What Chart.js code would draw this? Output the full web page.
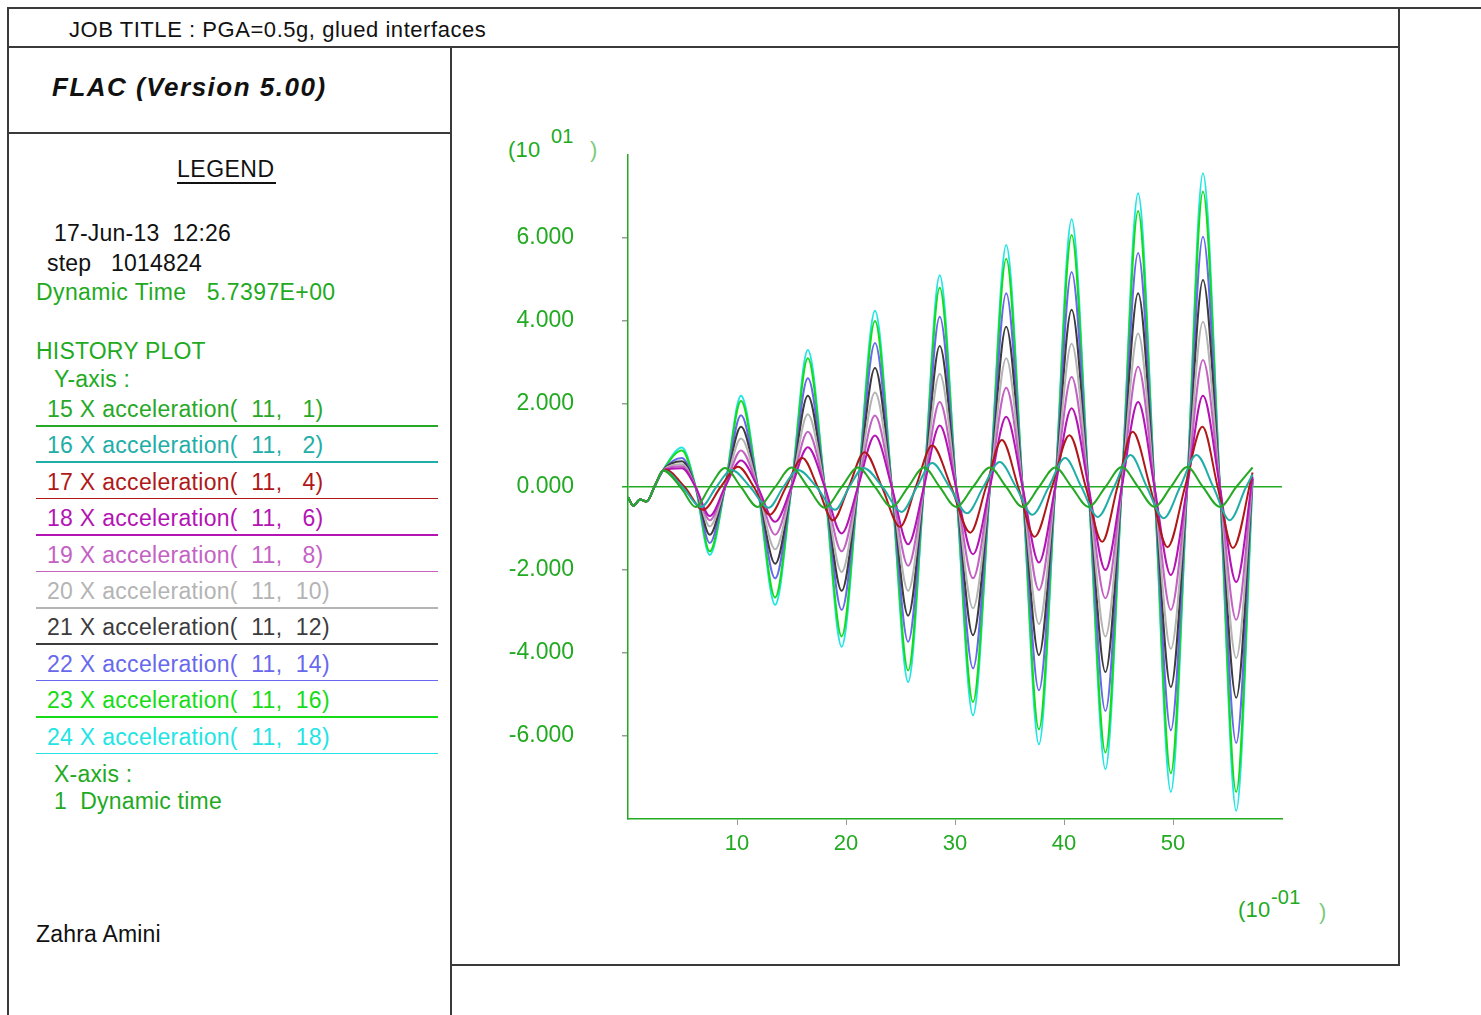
<!DOCTYPE html>
<html>
<head>
<meta charset="utf-8">
<script src="https://cdn.jsdelivr.net/npm/chart.js@4.4.1/dist/chart.umd.min.js"></script>
<style>
  body { margin: 0; width: 1481px; height: 1015px; background: #fff; position: relative; overflow: hidden;
         font-family: "Liberation Sans", Arial, sans-serif; }
  .ln { position: absolute; background: #3a3a3a; }
  .tx { position: absolute; white-space: pre; font-size: 23px; line-height: 26px; color: #111; letter-spacing: 0.2px; }
  .gr { color: #1faa1f; }
  #box { position: absolute; left: 452px; top: 48px; width: 946px; height: 916px; }
</style>
</head>
<body>
<!-- frame -->
<div class="ln" style="left:8px;top:7px;width:1473px;height:2px"></div>
<div class="ln" style="left:8px;top:46px;width:1392px;height:2px"></div>
<div class="ln" style="left:7px;top:7px;width:2px;height:1008px"></div>
<div class="ln" style="left:1398px;top:7px;width:2px;height:959px"></div>
<div class="ln" style="left:450px;top:46px;width:2px;height:969px"></div>
<div class="ln" style="left:8px;top:132px;width:443px;height:2px"></div>
<div class="ln" style="left:451px;top:964px;width:948px;height:2px"></div>

<div class="tx" style="left:69px;top:17px;font-size:22px;letter-spacing:0.55px">JOB TITLE : PGA=0.5g, glued interfaces</div>
<div class="tx" style="left:52px;top:72px;font-size:26px;line-height:30px;font-weight:bold;font-style:italic;letter-spacing:1.5px">FLAC (Version 5.00)</div>
<div class="tx" style="left:177px;top:156px;letter-spacing:0.5px">LEGEND</div>
<div class="ln" style="left:177px;top:182px;width:99px;height:1.5px;background:#111"></div>
<div class="tx" style="left:54px;top:220px">17-Jun-13  12:26</div>
<div class="tx" style="left:47px;top:250px">step   1014824</div>
<div class="tx gr" style="left:36px;top:279px;letter-spacing:0.4px">Dynamic Time   5.7397E+00</div>
<div class="tx gr" style="left:36px;top:338px">HISTORY PLOT</div>
<div class="tx gr" style="left:54px;top:366px">Y-axis :</div>
<div id="legend"></div>
<div class="tx gr" style="left:54px;top:761px">X-axis :</div>
<div class="tx gr" style="left:54px;top:788px">1  Dynamic time</div>
<div class="tx" style="left:36px;top:921px">Zahra Amini</div>

<!-- axis multipliers -->
<div class="tx gr" style="left:508px;top:137px;font-size:22px">(10</div>
<div class="tx gr" style="left:551px;top:123px;font-size:20px">01</div>
<div class="tx gr" style="left:590px;top:137px;font-size:22px;opacity:0.6">)</div>
<div class="tx gr" style="left:1238px;top:897px;font-size:22px">(10</div>
<div class="tx gr" style="left:1271px;top:884px;font-size:20px">-01</div>
<div class="tx gr" style="left:1319px;top:899px;font-size:22px;opacity:0.6">)</div>

<div id="box"><canvas id="grafico"></canvas></div>

<script>
// dynamic time (x 10^-1 s) sample points
const tMain = [0, 0.5, 1.1, 1.7, 2.5, 3.2, 4.95, 6.2, 7.5, 8.9, 10.37, 11.9, 13.5, 15.0, 16.5, 18.05, 19.6, 21.1,
  22.66, 24.2, 25.7, 27.15, 28.6, 30.1, 31.65, 33.2, 34.7, 36.2, 37.7, 39.2, 40.7, 42.25, 43.8, 45.3, 46.8, 48.3,
  49.8, 51.3, 52.75, 54.3, 55.8, 57.3];
const tNode2 = [0, 0.5, 1.1, 1.7, 2.5, 3.3, 5.0, 6.7, 8.1, 9.5, 11.2, 12.9, 14.25, 15.6, 17.3, 19.0, 20.3, 21.6,
  23.35, 25.1, 26.5, 27.9, 29.5, 31.1, 32.6, 34.1, 35.6, 37.1, 38.6, 40.1, 41.6, 43.1, 44.6, 46.1, 47.6, 49.15,
  50.65, 52.15, 53.7, 55.2, 56.7, 57.3];
const tNode4 = [0, 0.5, 1.1, 1.7, 2.5, 3.4, 5.2, 6.9, 8.5, 10.1, 11.55, 13.0, 14.5, 16.0, 17.4, 18.8, 20.25, 21.7,
  23.3, 24.95, 26.4, 27.9, 29.65, 31.4, 32.85, 34.3, 35.8, 37.3, 38.9, 40.5, 42.0, 43.5, 44.9, 46.3, 47.9, 49.5,
  51.1, 52.7, 54.1, 55.5, 57.3];

// x acceleration (x 10^1)
const acc1 = [-0.25, -0.45, -0.3, -0.35, 0.05, 0.4, -0.05, -0.48, 0, 0.46, 0, -0.48, 0, 0.47, 0, -0.5, 0, 0.47,
  0, -0.48, 0, 0.47, 0, -0.48, 0, 0.47, 0, -0.48, 0, 0.47, 0, -0.48, 0, 0.48, 0, -0.48, 0, 0.48, 0, -0.48, 0, 0.47];
const acc2 = [-0.25, -0.45, -0.3, -0.35, 0.05, 0.4, 0, -0.48, 0, 0.41, 0, -0.5, 0, 0.41, 0, -0.55, 0, 0.46,
  0, -0.6, 0, 0.58, 0, -0.63, 0, 0.6, 0, -0.67, 0, 0.7, 0, -0.72, 0, 0.77, 0, -0.75, 0, 0.77, 0, -0.8, 0, 0.3];
const acc4 = [-0.25, -0.45, -0.3, -0.35, 0.05, 0.42, 0, -0.55, 0, 0.49, 0, -0.67, 0, 0.7, 0, -0.8, 0, 0.84,
  0, -0.96, 0, 1.0, 0, -1.1, 0, 1.13, 0, -1.2, 0, 1.25, 0, -1.32, 0, 1.33, 0, -1.45, 0, 1.45, 0, -1.47, 0.35];
const acc6 = [-0.25, -0.45, -0.3, -0.35, 0.05, 0.4, 0.45, 0, -0.7, 0, 0.64, 0, -0.84, 0, 0.96, 0, -1.12, 0,
  1.24, 0, -1.38, 0, 1.48, 0, -1.62, 0, 1.69, 0, -1.82, 0, 1.9, 0, -2.0, 0, 2.05, 0, -2.12, 0, 2.2, 0, -2.29, 0.25];
const acc8 = [-0.25, -0.45, -0.3, -0.35, 0.05, 0.4, 0.5, 0, -0.8, 0, 0.88, 0, -1.15, 0, 1.33, 0, -1.55, 0,
  1.72, 0, -1.9, 0, 2.05, 0, -2.2, 0, 2.39, 0, -2.48, 0, 2.65, 0, -2.68, 0, 2.9, 0, -2.96, 0, 3.06, 0, -3.2, 0.2];
const acc10 = [-0.25, -0.45, -0.3, -0.35, 0.05, 0.4, 0.55, 0, -0.95, 0, 1.17, 0, -1.5, 0, 1.75, 0, -2.05, 0,
  2.28, 0, -2.5, 0, 2.72, 0, -2.92, 0, 3.1, 0, -3.3, 0, 3.45, 0, -3.6, 0, 3.7, 0, -3.9, 0, 3.98, 0, -4.12, 0.2];
const acc12 = [-0.25, -0.45, -0.3, -0.35, 0.05, 0.4, 0.62, 0, -1.15, 0, 1.45, 0, -1.85, 0, 2.2, 0, -2.5, 0,
  2.87, 0, -3.1, 0, 3.4, 0, -3.57, 0, 3.86, 0, -4.05, 0, 4.27, 0, -4.46, 0, 4.67, 0, -4.82, 0, 4.99, 0, -5.08, 0.2];
const acc14 = [-0.25, -0.45, -0.3, -0.35, 0.05, 0.4, 0.7, 0, -1.35, 0, 1.73, 0, -2.2, 0, 2.62, 0, -2.96, 0,
  3.47, 0, -3.73, 0, 4.1, 0, -4.37, 0, 4.67, 0, -4.9, 0, 5.18, 0, -5.4, 0, 5.64, 0, -5.86, 0, 6.03, 0, -6.17, 0.2];
const acc16 = [-0.25, -0.45, -0.3, -0.35, 0.05, 0.4, 0.88, 0, -1.55, 0, 2.07, 0, -2.66, 0, 3.1, 0, -3.6, 0,
  4.0, 0, -4.42, 0, 4.8, 0, -5.18, 0, 5.5, 0, -5.84, 0, 6.07, 0, -6.4, 0, 6.65, 0, -6.9, 0, 7.12, 0, -7.35, 0.2];
const acc18 = [-0.25, -0.45, -0.3, -0.35, 0.05, 0.4, 0.95, 0, -1.64, 0, 2.2, 0, -2.84, 0, 3.3, 0, -3.85, 0,
  4.25, 0, -4.7, 0, 5.1, 0, -5.5, 0, 5.83, 0, -6.2, 0, 6.45, 0, -6.8, 0, 7.08, 0, -7.35, 0, 7.56, 0, -7.8, 0.1];

const histIds = [15, 16, 17, 18, 19, 20, 21, 22, 23, 24];
const nodeJ = [1, 2, 4, 6, 8, 10, 12, 14, 16, 18];
const colores = ["#27a827", "#22aea8", "#b01818", "#b414b4", "#c462c4", "#b4b4b4", "#3c3c3c", "#6868ee", "#16dc16", "#22e4e4"];
const xTicks = [10, 20, 30, 40, 50];
const yTicks = [-6, -4, -2, 0, 2, 4, 6];

const tiempos = [tMain, tNode2, tNode4, tMain, tMain, tMain, tMain, tMain, tMain, tMain];
const valores = [acc1, acc2, acc4, acc6, acc8, acc10, acc12, acc14, acc16, acc18];

// legend on the left panel
const leg = document.getElementById("legend");
histIds.forEach((id, i) => {
    const top = 396 + i * 36.4;
    const t = document.createElement("div");
    t.className = "tx";
    t.style.left = "47px";
    t.style.top = top + "px";
    t.style.color = colores[i];
    t.style.letterSpacing = "0.3px";
    t.textContent = `${id} X acceleration(  11, ${String(nodeJ[i]).padStart(3, " ")})`;
    leg.appendChild(t);
    const u = document.createElement("div");
    u.className = "ln";
    u.style.left = "36px";
    u.style.top = (top + 29) + "px";
    u.style.width = "402px";
    u.style.height = "1.5px";
    u.style.background = colores[i];
    leg.appendChild(u);
});

const verde = "#22aa22";

new Chart("grafico", {
    type: "line",
    data: {
        datasets: histIds.map((id, i) => ({
            label: id + " X acceleration",
            data: tiempos[i].map((t, k) => ({ x: t, y: valores[i][k] })),
            borderColor: colores[i],
            borderWidth: 2,
            pointRadius: 0,
            fill: false,
            cubicInterpolationMode: "monotone"
        }))
    },
    options: {
        responsive: true,
        maintainAspectRatio: false,
        animation: false,
        layout: { padding: { left: 36, right: 116, top: 107, bottom: 85 } },
        plugins: { legend: { display: false }, tooltip: { enabled: false } },
        scales: {
            x: {
                type: "linear", min: 0, max: 60,
                afterBuildTicks: axis => { axis.ticks = xTicks.map(v => ({ value: v })); },
                afterFit: axis => { axis.height = 60; },
                border: { color: verde, width: 1.5 },
                grid: { drawOnChartArea: false, tickLength: 6, tickColor: "#9a9a9a" },
                ticks: { color: verde, font: { size: 22, family: "Liberation Sans" }, padding: 6, maxRotation: 0 }
            },
            y: {
                type: "linear", min: -8, max: 8,
                afterBuildTicks: axis => { axis.ticks = yTicks.map(v => ({ value: v })); },
                afterFit: axis => { axis.width = 140; },
                border: { color: verde, width: 1.5 },
                grid: {
                    tickLength: 6,
                    lineWidth: 1.5,
                    color: ctx => (ctx.tick && ctx.tick.value === 0) ? verde : "rgba(0,0,0,0)",
                    tickColor: ctx => (ctx.tick && ctx.tick.value === 0) ? verde : "#9a9a9a"
                },
                ticks: {
                    color: verde, font: { size: 23, family: "Liberation Sans" }, padding: 48,
                    callback: v => v.toFixed(3)
                }
            }
        }
    }
});
</script>
</body>
</html>
